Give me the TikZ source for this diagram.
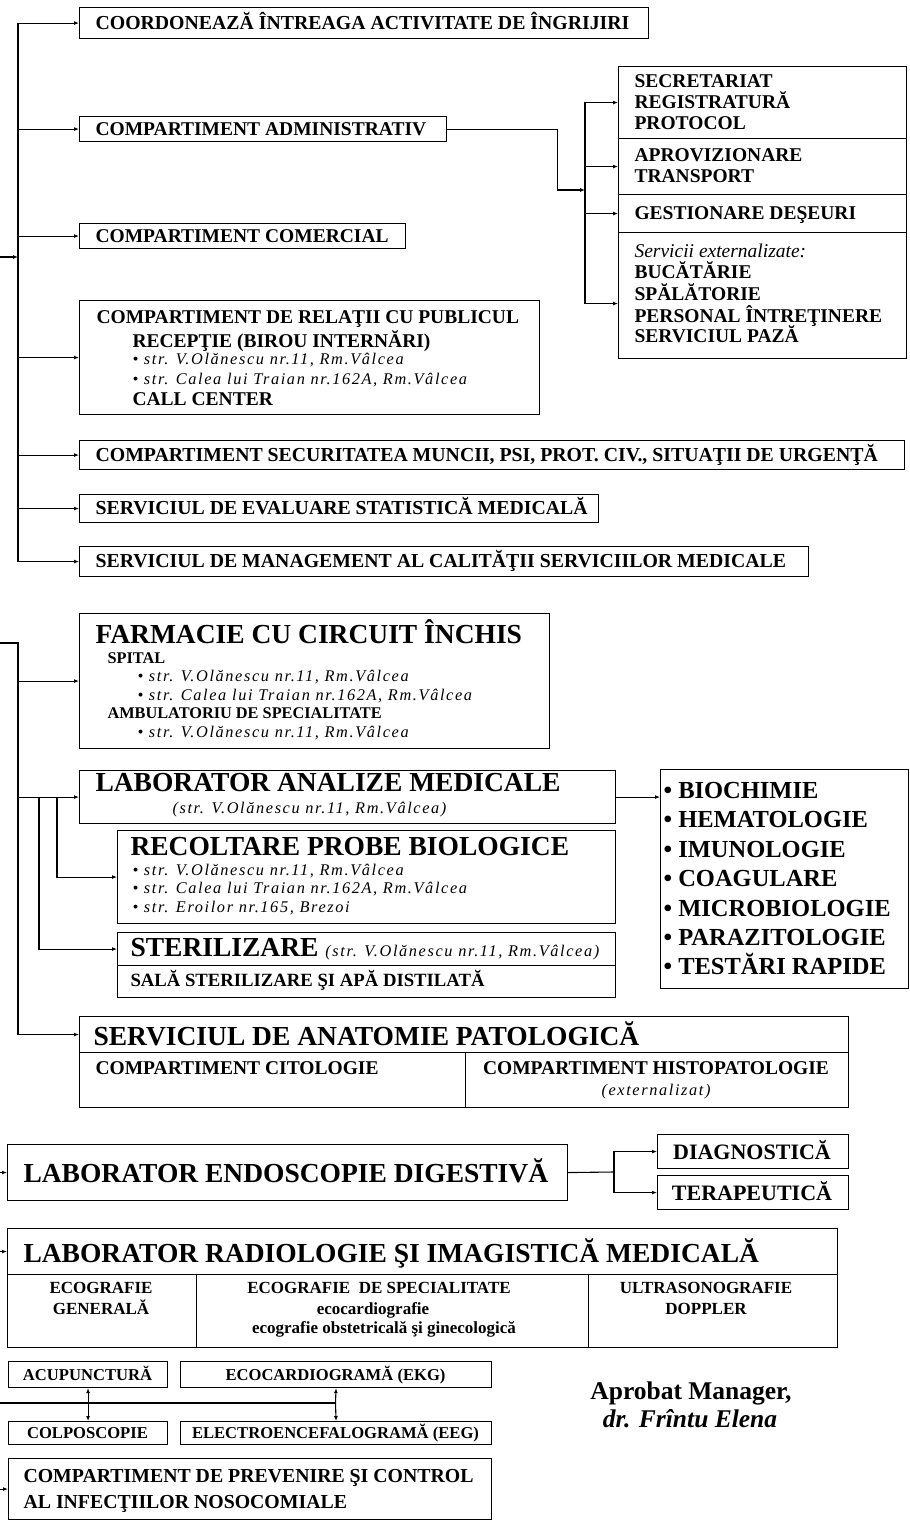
\documentclass[tikz,border=0pt]{standalone}
\usepackage{fontspec}
\setmainfont{Liberation Serif}[
  BoldFont={Liberation Serif Bold},
  ItalicFont={Liberation Serif Italic},
  BoldItalicFont={Liberation Serif Bold Italic}]
\newfontfamily\addrfont{Liberation Serif}[LetterSpace=10,
  ItalicFont={Liberation Serif Italic}]
\newcommand\fsz[1]{\fontsize{#1}{#1}\selectfont}
\usetikzlibrary{arrows.meta}
\tikzset{
  box/.style={draw, inner sep=0pt, anchor=north west},
  arr/.style={-{Latex[length=5pt,width=4pt]}},
  lbl/.style={anchor=base west, inner sep=0pt},
  ctr/.style={anchor=base, inner sep=0pt},
  big/.style={lbl, font=\bfseries\fsz{27.5}},
  wide/.style={lbl, font=\bfseries\fsz{19.8}},
  mid/.style={lbl, font=\bfseries\fsz{19.5}},
  sml/.style={lbl, font=\bfseries\fsz{16.3}},
  addr/.style={lbl, font=\addrfont\itshape\fsz{16.3}},
  itm/.style={lbl, font=\bfseries\fsz{24.5}},
}
\begin{document}
\begin{tikzpicture}[x=1pt,y=-1pt,line width=1.1pt]
\useasboundingbox (0,0) rectangle (910,1526);
\coordinate (edge) at (0,0);

\node[box, minimum width=569pt, minimum height=31pt] (coord) at (79,7) {};
\node[wide] (coord-t) at (95,29) {COORDONEAZĂ ÎNTREAGA ACTIVITATE DE ÎNGRIJIRI};
\node[box, minimum width=367pt, minimum height=25pt] (admin) at (79,116) {};
\node[mid] (admin-t) at (95,135) {COMPARTIMENT ADMINISTRATIV};
\node[box, minimum width=326pt, minimum height=25pt] (comerc) at (79,223) {};
\node[mid] (comerc-t) at (95,242) {COMPARTIMENT COMERCIAL};
\node[box, minimum width=460pt, minimum height=114pt] (relatii) at (79,300) {};
\node[mid] (relatii-t1) at (96,323) {COMPARTIMENT DE RELAŢII CU PUBLICUL};
\node[mid] (relatii-t2) at (132,347) {RECEPŢIE (BIROU INTERNĂRI)};
\node[addr] (relatii-t3) at (132,364) {• str. V.Olănescu nr.11, Rm.Vâlcea};
\node[addr] (relatii-t4) at (132,384) {• str. Calea lui Traian nr.162A, Rm.Vâlcea};
\node[mid] (relatii-t5) at (132,405) {CALL CENTER};
\node[box, minimum width=825pt, minimum height=29pt] (secur) at (79,440) {};
\node[wide] (secur-t) at (95,461) {COMPARTIMENT SECURITATEA MUNCII, PSI, PROT. CIV., SITUAŢII DE URGENŢĂ};
\node[box, minimum width=519pt, minimum height=28pt] (eval) at (79,494) {};
\node[wide] (eval-t) at (95,514.5) {SERVICIUL DE EVALUARE STATISTICĂ MEDICALĂ};
\node[box, minimum width=729pt, minimum height=30pt] (mgmt) at (79,546) {};
\node[wide] (mgmt-t) at (95,567.5) {SERVICIUL DE MANAGEMENT AL CALITĂŢII SERVICIILOR MEDICALE};

\node[box, minimum width=288pt, minimum height=72pt] (secr) at (618,66) {};
\node[box, minimum width=288pt, minimum height=56pt] (aprov) at (618,138) {};
\node[box, minimum width=288pt, minimum height=38pt] (gest) at (618,194) {};
\node[box, minimum width=288pt, minimum height=126pt] (serv) at (618,232) {};
\node[mid] (secr-t1) at (634,87) {SECRETARIAT};
\node[mid] (secr-t2) at (634,108) {REGISTRATURĂ};
\node[mid] (secr-t3) at (634,129) {PROTOCOL};
\node[mid] (aprov-t1) at (634,161) {APROVIZIONARE};
\node[mid] (aprov-t2) at (634,182) {TRANSPORT};
\node[mid] (gest-t) at (634,219) {GESTIONARE DEŞEURI};
\node[lbl, font=\itshape\fsz{19.5}] (serv-t1) at (634,257) {Servicii externalizate:};
\node[mid] (serv-t2) at (634,278) {BUCĂTĂRIE};
\node[mid] (serv-t3) at (634,300) {SPĂLĂTORIE};
\node[mid] (serv-t4) at (634,322) {PERSONAL ÎNTREŢINERE};
\node[mid] (serv-t5) at (634,342) {SERVICIUL PAZĂ};

\coordinate (j1) at (18,257);
\draw[arr] (edge |- j1) -- (j1);
\draw[line cap=rect] (coord.west -| j1) -- (mgmt.west -| j1);
\foreach \n in {coord,admin,comerc,relatii,secur,eval,mgmt}
  \draw[arr] (\n.west -| j1) -- (\n.west);
\coordinate (j2) at (585,190);
\coordinate (servin) at ([yshift=-8pt]serv.west);
\draw[arr] (admin.east) -- +(110,0) |- (j2);
\draw[line cap=rect] (secr.west -| j2) -- (servin -| j2);
\foreach \n in {secr,aprov,gest}
  \draw[arr] (\n.west -| j2) -- (\n.west);
\draw[arr] (servin -| j2) -- (servin);

\node[box, minimum width=470pt, minimum height=135pt] (farm) at (79,613) {};
\node[big] (farm-t1) at (95,643) {FARMACIE CU CIRCUIT ÎNCHIS};
\node[sml] (farm-t2) at (107,663) {SPITAL};
\node[addr] (farm-t3) at (137,681) {• str. V.Olănescu nr.11, Rm.Vâlcea};
\node[addr] (farm-t4) at (137,700) {• str. Calea lui Traian nr.162A, Rm.Vâlcea};
\node[sml] (farm-t5) at (107,718) {AMBULATORIU DE SPECIALITATE};
\node[addr] (farm-t6) at (137,737) {• str. V.Olănescu nr.11, Rm.Vâlcea};
\node[box, minimum width=536pt, minimum height=53pt] (lab) at (79,770) {};
\node[big] (lab-t1) at (95,791) {LABORATOR ANALIZE MEDICALE};
\node[addr] (lab-t2) at (172,813) {(str. V.Olănescu nr.11, Rm.Vâlcea)};
\node[box, minimum width=498pt, minimum height=93pt] (recolt) at (117,830) {};
\node[big] (recolt-t1) at (130,855) {RECOLTARE PROBE BIOLOGICE};
\node[addr] (recolt-t2) at (132,875) {• str. V.Olănescu nr.11, Rm.Vâlcea};
\node[addr] (recolt-t3) at (132,893) {• str. Calea lui Traian nr.162A, Rm.Vâlcea};
\node[addr] (recolt-t4) at (132,912) {• str. Eroilor nr.165, Brezoi};
\node[box, minimum width=498pt, minimum height=33pt] (steril) at (117,932) {};
\node[box, minimum width=498pt, minimum height=32pt] (sala) at (117,965) {};
\node[big] (steril-t) at (130,956) {STERILIZARE {\addrfont\mdseries\itshape\fsz{16.3}(str. V.Olănescu nr.11, Rm.Vâlcea)}};
\node[lbl, font=\bfseries\fsz{18.7}] (sala-t) at (130,986) {SALĂ STERILIZARE ŞI APĂ DISTILATĂ};

\node[box, minimum width=248pt, minimum height=219pt] (list) at (660,769) {};
\node[itm] (list-1) at (663,798) {• BIOCHIMIE};
\node[itm] (list-2) at (663,827) {• HEMATOLOGIE};
\node[itm] (list-3) at (663,857) {• IMUNOLOGIE};
\node[itm] (list-4) at (663,886) {• COAGULARE};
\node[itm] (list-5) at (663,916) {• MICROBIOLOGIE};
\node[itm] (list-6) at (663,945) {• PARAZITOLOGIE};
\node[itm] (list-7) at (663,974) {• TESTĂRI RAPIDE};

\node[box, minimum width=769pt, minimum height=36pt] (anat) at (79,1016) {};
\node[box, minimum width=386pt, minimum height=55pt] (cito) at (79,1052) {};
\node[box, minimum width=383pt, minimum height=55pt] (histo) at (465,1052) {};
\node[big] (anat-t) at (93,1045) {SERVICIUL DE ANATOMIE PATOLOGICĂ};
\node[mid] (cito-t) at (95,1074) {COMPARTIMENT CITOLOGIE};
\node[ctr, font=\bfseries\fsz{19.5}] (histo-t1) at (656,1074) {COMPARTIMENT HISTOPATOLOGIE};
\node[ctr, font=\addrfont\itshape\fsz{16.3}] (histo-t2) at (656,1095) {(externalizat)};

\coordinate (j3) at (18,643);
\draw (edge |- j3) -- (j3) -- (anat.west -| j3);
\foreach \n in {farm,lab,anat}
  \draw[arr] (\n.west -| j3) -- (\n.west);
\coordinate (j4) at (39,0);
\coordinate (j5) at (57,0);
\draw[arr] (lab.west -| j5) |- (recolt.west);
\draw[arr] (lab.west -| j4) |- (steril.west);
\draw[arr] (lab.east) -- (list.west |- lab.east);

\node[box, minimum width=560pt, minimum height=56pt] (endo) at (7,1144) {};
\node[big] (endo-t) at (23,1182) {LABORATOR ENDOSCOPIE DIGESTIVĂ};
\node[box, minimum width=191pt, minimum height=34pt] (diag) at (657,1134) {};
\node[box, minimum width=191pt, minimum height=34pt] (terap) at (657,1175) {};
\node[ctr, font=\bfseries\fsz{22}] (diag-t) at (752,1159) {DIAGNOSTICĂ};
\node[ctr, font=\bfseries\fsz{22}] (terap-t) at (752,1200) {TERAPEUTICĂ};
\draw[arr] (endo.west -| edge) -- (endo.west);
\coordinate (j6) at (614,1172);
\draw (endo.east) -- (j6);
\draw[arr] (j6) |- (diag.west);
\draw[arr] (j6) |- (terap.west);

\node[box, minimum width=830pt, minimum height=46pt] (radio) at (7,1228) {};
\node[box, minimum width=189pt, minimum height=73pt] (radio-a) at (7,1274) {};
\node[box, minimum width=392pt, minimum height=73pt] (radio-b) at (196,1274) {};
\node[box, minimum width=249pt, minimum height=73pt] (radio-c) at (588,1274) {};
\node[big] (radio-t) at (23,1262) {LABORATOR RADIOLOGIE ŞI IMAGISTICĂ MEDICALĂ};
\node[ctr, font=\bfseries\fsz{17}] (radio-a1) at (101,1293) {ECOGRAFIE};
\node[ctr, font=\bfseries\fsz{17}] (radio-a2) at (101,1314) {GENERALĂ};
\node[ctr, font=\bfseries\fsz{17}] (radio-b1) at (379,1293) {ECOGRAFIE\ \ DE SPECIALITATE};
\node[ctr, font=\bfseries\fsz{17}] (radio-b2) at (373,1314) {ecocardiografie};
\node[ctr, font=\bfseries\fsz{17}] (radio-b3) at (384,1333) {ecografie obstetricală şi ginecologică};
\node[ctr, font=\bfseries\fsz{17}] (radio-c1) at (706,1293) {ULTRASONOGRAFIE};
\node[ctr, font=\bfseries\fsz{17}] (radio-c2) at (706,1314) {DOPPLER};
\draw[arr] (radio.west -| edge) -- (radio.west);

\node[box, minimum width=159pt, minimum height=26pt] (acup) at (8,1361) {};
\node[box, minimum width=311pt, minimum height=26pt] (ekg) at (180,1361) {};
\node[box, minimum width=159pt, minimum height=23pt] (colpo) at (8,1421) {};
\node[box, minimum width=311pt, minimum height=23pt] (eeg) at (180,1421) {};
\node[ctr, font=\bfseries\fsz{16.6}] (acup-t) at (87.5,1380) {ACUPUNCTURĂ};
\node[ctr, font=\bfseries\fsz{16.6}] (ekg-t) at (335.5,1380) {ECOCARDIOGRAMĂ (EKG)};
\node[ctr, font=\bfseries\fsz{16.6}] (colpo-t) at (87.5,1438.5) {COLPOSCOPIE};
\node[ctr, font=\bfseries\fsz{16.6}] (eeg-t) at (335.5,1438.5) {ELECTROENCEFALOGRAMĂ (EEG)};
\coordinate (bus) at (335.5,1403);
\draw (bus -| edge) -- (bus);
\draw[arr] (acup.south |- bus) -- (acup.south);
\draw[arr] (acup.south |- bus) -- (colpo.north);
\draw[arr] (bus) -- (ekg.south);
\draw[arr] (bus) -- (eeg.north);

\node[box, minimum width=483pt, minimum height=61pt] (prev) at (8,1458) {};
\node[wide] (prev-t1) at (23,1482) {COMPARTIMENT DE PREVENIRE ŞI CONTROL};
\node[wide] (prev-t2) at (23,1508) {AL INFECŢIILOR NOSOCOMIALE};
\draw[arr] (prev.west -| edge) -- (prev.west);

\node[ctr, font=\bfseries\fsz{25.5}] (aprob) at (691,1399) {Aprobat Manager,};
\node[ctr, font=\bfseries\itshape\fsz{25.5}] (mgr) at (690,1427) {dr. Frîntu Elena};
\end{tikzpicture}
\end{document}
